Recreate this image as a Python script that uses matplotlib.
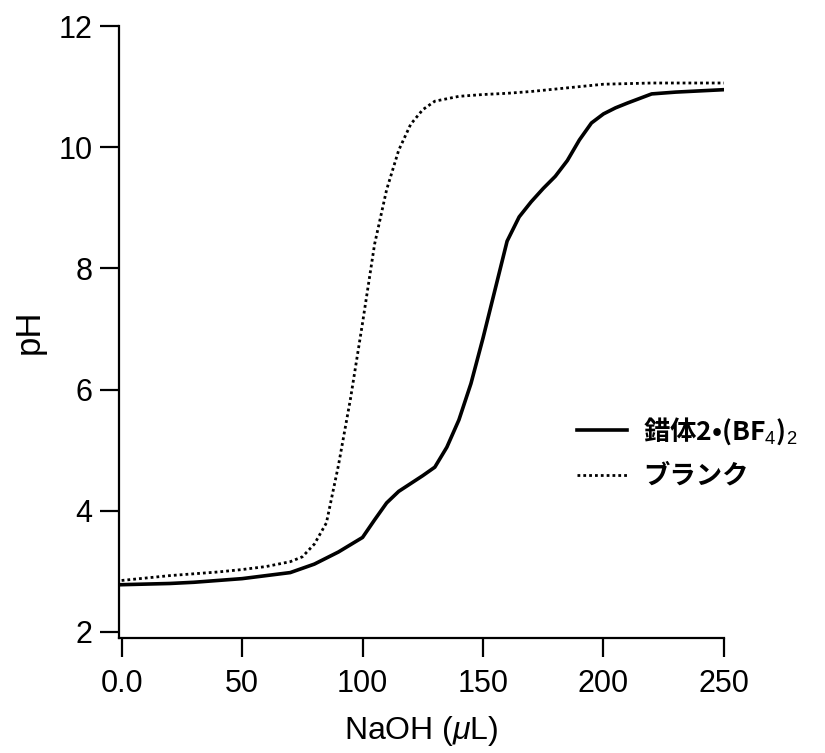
import matplotlib
matplotlib.use("Agg")
import matplotlib.pyplot as plt

plt.rcParams['font.family'] = ['Liberation Sans', 'Noto Sans CJK JP', 'DejaVu Sans']
plt.rcParams['mathtext.fontset'] = 'custom'
plt.rcParams['mathtext.rm'] = 'Liberation Sans'
plt.rcParams['mathtext.it'] = 'Liberation Sans:italic'

# Complex 2·(BF4)2 titration (solid)
complex_x = [0, 10, 20, 30, 40, 50, 60, 70, 80, 90, 100, 105, 110, 115, 120, 125,
             130, 135, 140, 145, 150, 155, 160, 165, 170, 175, 180, 185, 190, 195,
             200, 205, 210, 220, 230, 240, 250]
complex_ph = [2.78, 2.79, 2.80, 2.82, 2.85, 2.88, 2.93, 2.98, 3.12, 3.32, 3.56, 3.85,
              4.13, 4.32, 4.45, 4.58, 4.72, 5.05, 5.50, 6.10, 6.85, 7.65, 8.45, 8.85,
              9.10, 9.32, 9.52, 9.78, 10.12, 10.40, 10.55, 10.65, 10.73, 10.88, 10.91,
              10.93, 10.95]

# Blank titration (dotted)
blank_x = [0, 10, 20, 30, 40, 50, 60, 70, 75, 80, 85, 90, 95, 100, 105, 110, 115,
           120, 125, 130, 140, 150, 160, 170, 180, 190, 200, 210, 220, 230, 240, 250]
blank_ph = [2.85, 2.89, 2.93, 2.96, 2.99, 3.03, 3.08, 3.16, 3.24, 3.45, 3.80, 4.75,
            5.85, 7.10, 8.40, 9.30, 9.95, 10.38, 10.62, 10.76, 10.84, 10.87, 10.89,
            10.92, 10.96, 11.00, 11.04, 11.05, 11.06, 11.06, 11.06, 11.06]

labels = ['錯体2•(BF$_4$)$_2$', 'ブランク']
xticks = [0, 50, 100, 150, 200, 250]
xticklabels = ['0.0', '50', '100', '150', '200', '250']
yticks = [2, 4, 6, 8, 10, 12]

fig = plt.figure(figsize=(8.25, 7.53), dpi=100)
ax = fig.add_axes([0.1442, 0.1527, 0.7333, 0.8127])

ax.plot(complex_x, complex_ph, color='black', lw=2.6, solid_joinstyle='round',
        label=labels[0])
ax.plot(blank_x, blank_ph, color='black', lw=2.0, dashes=(1, 1.1),
        label=labels[1])

ax.set_xlim(-1.1, 250)
ax.set_ylim(1.9, 12)
ax.set_xticks(xticks)
ax.set_xticklabels(xticklabels)
ax.set_yticks(yticks)

for s in ['top', 'right']:
    ax.spines[s].set_visible(False)
for s in ['left', 'bottom']:
    ax.spines[s].set_linewidth(1.6)

ax.tick_params(axis='both', direction='out', length=14, width=1.6, labelsize=22)
ax.tick_params(axis='x', pad=8)
ax.tick_params(axis='y', pad=5)

ax.set_xlabel('NaOH ($\\mu$L)', fontsize=23, labelpad=11)
ax.set_ylabel('pH', fontsize=25, labelpad=9)

leg = ax.legend(loc='center left', bbox_to_anchor=(0.757, 0.303), frameon=False,
                prop={'family': 'Noto Sans CJK JP', 'size': 19, 'weight': 'bold'},
                handlelength=1.9, handletextpad=0.6, labelspacing=0.6,
                borderpad=0, borderaxespad=0)

fig.savefig('out.png', dpi=100)
